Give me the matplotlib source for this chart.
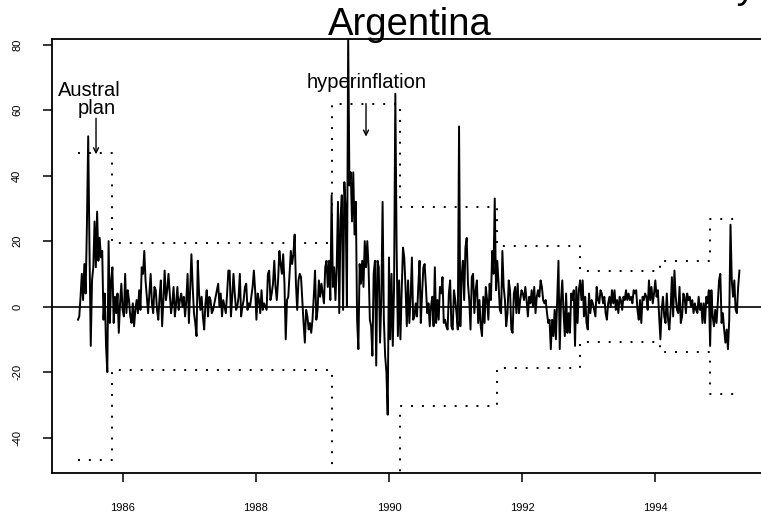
import matplotlib
matplotlib.use("Agg")
import matplotlib.pyplot as plt
import numpy as np

plt.rcParams['font.family'] = ['Liberation Sans', 'DejaVu Sans']
plt.rcParams['lines.scale_dashes'] = False
plt.rcParams['axes.unicode_minus'] = False

# weekly returns (%)
returns = [
    # regime 1
    -4, -3, 3, 10, 2, 13, 4, 25, 52, 18, -12, 8, 12, 26, 12, 29, 14, 21, 15, 17,
    -4, 4, -12, -20, 20, -5, 8,
    # regime 2
    12, -5, 3, -2, 4, -8, 1, 7, -1, -3, 10, -2, 5, 2, -3, -5, 1, -6, -1, 2,
    -2, 5, -1, 12, 10, 17, 8, 3, -2, 4, 10, 1, -2, 6, 5, -1, -4, 3, 8, -6,
    2, 11, 2, 5, 10, 4, -2, 1, 6, -3, 1, 6, -1, 2, 4, 0, 3, -3,
    2, 10, -5, 5, 16, 6, -2, -5, -9, 14, 4, -1, 3, -3, -7, 1, 5, -3, 3, 2,
    -2, -1, 1, 3, 5, 7, 0, 4, -3, 2, 0, -2, 4, 11, 11, -3, 3, 10, 4, -1,
    0, 3, 10, -3, 0, 2, 6, 7, -1, 1, 0, 3, 6, 11, 5, -4, 4, 2, -2, 5,
    -1, 1, 0, -1, 10, 11, 2, 4, 7, 14, 6, 2, 8, 17, 13, 10, 16, 7, -10, 2,
    3, 10, 17, 13, 16, 22, 7, -1, 8, 10,
    9, 2, -5, -11, -1, -3, -7, -5, -8, -4, 3, 11, -4, -1, 8, 3, 7, 4, 1, 12,
    14, 6, 14, 2,
    # regime 3 (hyperinflation)
    34, 6, 12, 2, 12, 32, -2, 27, 34, -1, 38, 30, 0, 82, 37, 41, 26, 41, 22, 32,
    -4, -13, 13, 7, 14, 6, 20, 12, 20, 12, -4, -6, -15, 10, 14, -18, 14, 12, -11, 2,
    32, -4, -15, -20, -33, 15, -10, 10, -12, 6, 65, 18, -9, 8,
    # regime 4
    -10, 5, 18, 15, 6, -6, 8, -5, 3, 15, -4, -3, 1, -3, 6, 14, -5, 4, 12, 13,
    6, -2, 1, -6, 0, 3, -6, 12, -5, 2, -4, 6, 4, 9, -5, -4, -6, -7, 4, 8,
    -6, -7, 5, 2, -2, -7, 55, -6, 9, 14, 2, 18, 21, 7, 2, -7, 9, 10, -2, 5,
    8, -5, 2, -6, -9, 3, -5, 6, 2, -4, 7, 2, 17, 10, 33, 5,
    # regime 5
    14, 7, -1, -2, 17, 6, 2, -6, -2, 8, 5, -7, -8, 4,
    6, -2, 7, -2, 2, 5, 4, 2, 6, 2, -3, 3, 1, 5, 0, 6, -2, 3, 5, 3,
    8, 6, 2, 1, 2, -2, -5, -4, -13, -4, -9, -1, -10, 2, 14, -13, 2, 8, -2, -9,
    4, -8, -2, -8, 4, 2, 5, -12, 6, -5, 5,
    # regime 6
    8, 2, 8, -3, 3, -5, -7, 4, -2, 2, 1, -1, -3, 6, 2, 1, 5, 4, 1, 3,
    -2, -4, 1, 3, 0, 5, 1, 5, -1, 2, -2, 3, 2, -1, 3, 2, 5, 2, 4, 2,
    3, 1, 5, 4, 5, -1, -4, 2, -5, 3, 2, 4, 3, -1, 8, 2, 6, 1, 4, 8,
    3, 5, -3,
    # regime 7
    -10, -1, 3, -3, -5, 4, -4, -7, -1, 9, -3, 11, 3, -1, -2, 6, -5, -3, 4, 3,
    -2, 4, 2, 3, 0, 2, -2, 1, -1, -2, 3, -1, 1, -5, 1, -5, 3, 1, 5,
    # regime 8
    -12, 5, -3, -6, -1, -5, 1, 8, 10, -5, -2, -7, -11, -7, -13, -4, 25, 8, 3, 8,
    -1, -2, 6, 11,
]
start_year = 1985.323
weeks_per_year = 52.18

# change points of variance and the +/- 3 sd band of each regime
change_years = [1985.323, 1985.827, 1989.14, 1990.16, 1991.62, 1992.87, 1994.07, 1994.82, 1995.27]
band = [46.8, 19.5, 61.8, 30.3, 18.6, 10.9, 14.0, 26.7]

xtick_values = [1986, 1988, 1990, 1992, 1994]
ytick_values = [-40, -20, 0, 20, 40, 60, 80]
ytick_labels = ['-40', '-20', '0', '20', '40', '60', '80']

W, H = 761, 521
fig = plt.figure(figsize=(W / 100, H / 100), dpi=100)
ax = fig.add_axes([52 / W, 1 - 473 / H, (768 - 52) / W, (473 - 39) / H])

years = start_year + np.arange(len(returns)) / weeks_per_year
ax.plot(years, returns, color='black', lw=1.4)
ax.axhline(0, color='black', lw=1.2)

upper = band + [band[-1]]
dots = (0, (1.4, 6.45))
ax.step(change_years, upper, where='post', color='black', lw=1.4, linestyle=dots)
ax.step(change_years, [-b for b in upper], where='post', color='black', lw=1.4, linestyle=dots)

ax.set_xlim(1984.932, 1995.699)
ax.set_ylim(-50.8, 81.7)
ax.set_xticks(xtick_values)
ax.set_xticklabels([str(v) for v in xtick_values])
ax.set_yticks(ytick_values)
ax.set_yticklabels(ytick_labels, rotation=90, va='center')
ax.tick_params(length=6.5, width=1.1, pad=15, labelsize=8, direction='out')
for s in ax.spines.values():
    s.set_linewidth(1.3)

# annotations
ax.text(1985.50, 64.3, 'Austral', ha='center', va='baseline', fontsize=14.5)
ax.text(1985.61, 58.8, 'plan', ha='center', va='baseline', fontsize=14.5)
ax.annotate('', xy=(1985.594, 46.5), xytext=(1985.594, 57.5),
            arrowprops=dict(arrowstyle='->', lw=1.0, color='black', mutation_scale=9,
                            shrinkA=0, shrinkB=0))
ax.text(1989.666, 66.8, 'hyperinflation', ha='center', va='baseline', fontsize=14.5)
ax.annotate('', xy=(1989.654, 51.9), xytext=(1989.654, 62.0),
            arrowprops=dict(arrowstyle='->', lw=1.0, color='black', mutation_scale=9,
                            shrinkA=0, shrinkB=0))

# two-line title, first line runs off the top of the picture
fig.text(410 / W, 1 - 35 / H, 'Argentina', ha='center', va='baseline', fontsize=27.5)
fig.text(420 / W, 1 + 2 / H, 'Returns and Sudden Breaks in Volatility',
         ha='center', va='baseline', fontsize=27.5)

fig.savefig('out.png', dpi=100)
